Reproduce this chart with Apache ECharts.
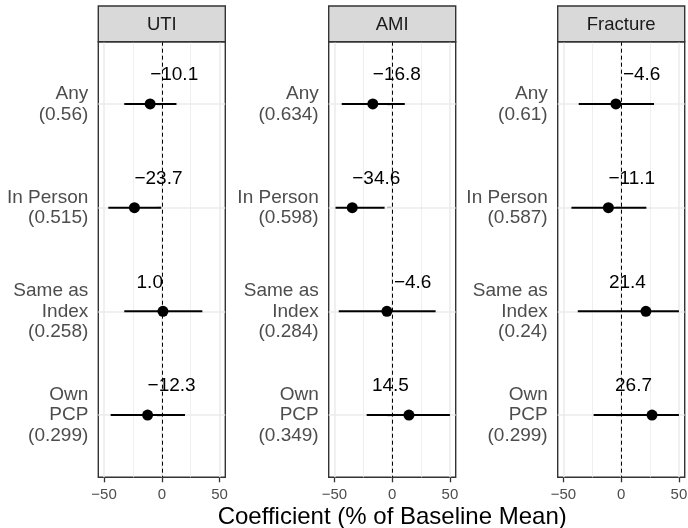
<!DOCTYPE html>
<html>
<head>
<meta charset="utf-8">
<script src="https://cdn.jsdelivr.net/npm/echarts@6/dist/echarts.min.js"></script>
<style>html,body{margin:0;padding:0;background:#fff}#c{width:688px;height:528px}</style>
</head>
<body>
<div id="c"></div>
<script>
// ---- data ----
const panels = ['UTI', 'AMI', 'Fracture'];
const categories = ['Any', 'In Person', 'Same as\nIndex', 'Own\nPCP'];
const baselineUTI = [0.56, 0.515, 0.258, 0.299];
const baselineAMI = [0.634, 0.598, 0.284, 0.349];
const baselineFracture = [0.61, 0.587, 0.24, 0.299];
const estUTI = [-10.1, -23.7, 1.0, -12.3];
const lowUTI = [-32.5, -46.3, -32.5, -44.3];
const highUTI = [12.7, -0.5, 35.1, 20.1];
const estAMI = [-16.8, -34.6, -4.6, 14.5];
const lowAMI = [-43.7, -49.1, -46.3, -22.1];
const highAMI = [10.9, -6.6, 37.6, 50];
const estFracture = [-4.6, -11.1, 21.4, 26.7];
const lowFracture = [-36.8, -43.1, -37.6, -23.9];
const highFracture = [28.4, 21.8, 50, 50];
const xTicks = [-50, 0, 50];
const xMinor = [-25, 25];
const xTitle = 'Coefficient (% of Baseline Mean)';

const panelData = [
  {base: baselineUTI, est: estUTI, lo: lowUTI, hi: highUTI},
  {base: baselineAMI, est: estAMI, lo: lowAMI, hi: highAMI},
  {base: baselineFracture, est: estFracture, lo: lowFracture, hi: highFracture}
];

// ---- layout / style ----
const FONT = 'Liberation Sans, Arial, Helvetica, sans-serif';
const gridLeft = [98.3, 328.7, 557.7];
const gridW = 127, gridTop = 41.7, gridH = 435.6;
const stripTop = 6;
const labelNudge = {1: {2: 7}, 2: {0: 7}}; // small horizontal nudges of value labels

const fmt = v => (v < 0 ? '\u2212' : '') + Math.abs(v).toFixed(1);

const grids = [], xAxes = [], yAxes = [], series = [], graphics = [];
panels.forEach((name, p) => {
  const d = panelData[p];
  grids.push({left: gridLeft[p], top: gridTop, width: gridW, height: gridH,
    show: true, borderColor: '#333333', borderWidth: 1.4, backgroundColor: '#fff',
    containLabel: false, outerBoundsMode: 'none'});
  xAxes.push({
    gridIndex: p, type: 'value', min: -55, max: 55,
    axisLine: {show: false},
    axisTick: {show: true, customValues: xTicks, length: 5, lineStyle: {color: '#333333', width: 1.3}},
    axisLabel: {customValues: xTicks, color: '#4D4D4D', fontSize: 15, fontFamily: FONT, margin: 10,
      formatter: v => (v < 0 ? '\u2212' : '') + Math.abs(v)},
    splitLine: {show: false},
    name: p === 1 ? xTitle : '', nameLocation: 'middle', nameGap: 28, nameMoveOverlap: false,
    nameTextStyle: {color: '#000', fontSize: 24, fontFamily: FONT}
  });
  yAxes.push({
    gridIndex: p, type: 'value', min: 0.4, max: 4.6, inverse: true,
    axisLine: {show: false},
    axisTick: {show: true, customValues: [1, 2, 3, 4], length: 5, lineStyle: {color: '#333333', width: 1.3}},
    axisLabel: {customValues: [1, 2, 3, 4], color: '#4D4D4D', fontSize: 19, lineHeight: 20.7, fontFamily: FONT,
      margin: 10, align: 'right', padding: [5, 0, 0, 0],
      formatter: v => categories[Math.round(v) - 1] + '\n(' + d.base[Math.round(v) - 1] + ')'},
    splitLine: {show: false}
  });
  // grid lines
  const gl = [];
  xMinor.forEach(v => gl.push({xAxis: v, lineStyle: {color: '#EBEBEB', width: 0.8, type: 'solid'}}));
  xTicks.forEach(v => gl.push({xAxis: v, lineStyle: {color: '#EBEBEB', width: 1.5, type: 'solid'}}));
  categories.forEach((c, i) => gl.push({yAxis: i + 1, lineStyle: {color: '#EBEBEB', width: 1.5, type: 'solid'}}));
  series.push({type: 'line', xAxisIndex: p, yAxisIndex: p, data: [], z: 1, silent: true,
    markLine: {z: 1, silent: true, symbol: ['none', 'none'], label: {show: false}, animation: false, data: gl}});
  // zero line
  series.push({type: 'line', xAxisIndex: p, yAxisIndex: p, data: [], z: 2, silent: true,
    markLine: {z: 2, silent: true, symbol: ['none', 'none'], label: {show: false}, animation: false,
      data: [{xAxis: 0, lineStyle: {color: '#000', width: 1, type: [4, 3]}}]}});
  // error bars
  series.push({type: 'custom', xAxisIndex: p, yAxisIndex: p, z: 3, silent: true,
    data: d.est.map((e, i) => [d.lo[i], d.hi[i], i + 1]),
    encode: {x: [0, 1], y: 2},
    renderItem: (params, api) => {
      const a = api.coord([api.value(0), api.value(2)]);
      const b = api.coord([api.value(1), api.value(2)]);
      return {type: 'line', shape: {x1: a[0], y1: a[1], x2: b[0], y2: b[1]},
        style: {stroke: '#000', lineWidth: 2}};
    }});
  // points with labels
  series.push({type: 'scatter', xAxisIndex: p, yAxisIndex: p, z: 4, silent: true,
    symbol: 'circle', symbolSize: 11, itemStyle: {color: '#000', opacity: 1},
    data: d.est.map((e, i) => ({
      value: [e, i + 1],
      label: {show: true, position: 'top', distance: 14, align: e < 0 ? 'left' : 'right',
        offset: [(labelNudge[p] && labelNudge[p][i]) || 0, 0],
        formatter: () => fmt(e), color: '#000', fontSize: 19, fontFamily: FONT}
    }))});
  // strip
  graphics.push({type: 'rect', shape: {x: gridLeft[p], y: stripTop, width: gridW, height: gridTop - stripTop},
    style: {fill: '#D9D9D9', stroke: '#333333', lineWidth: 1.4}, z: 10});
  graphics.push({type: 'text', x: gridLeft[p] + gridW / 2, y: (stripTop + gridTop) / 2 + 1,
    style: {text: name, fill: '#1A1A1A', fontSize: 18.5, fontFamily: FONT, align: 'center', verticalAlign: 'middle'}, z: 11});
});

const chart = echarts.init(document.getElementById('c'), null, {renderer: 'canvas'});
chart.setOption({
  backgroundColor: '#fff',
  animation: false,
  grid: grids, xAxis: xAxes, yAxis: yAxes, series: series, graphic: graphics
});
</script>
</body>
</html>
